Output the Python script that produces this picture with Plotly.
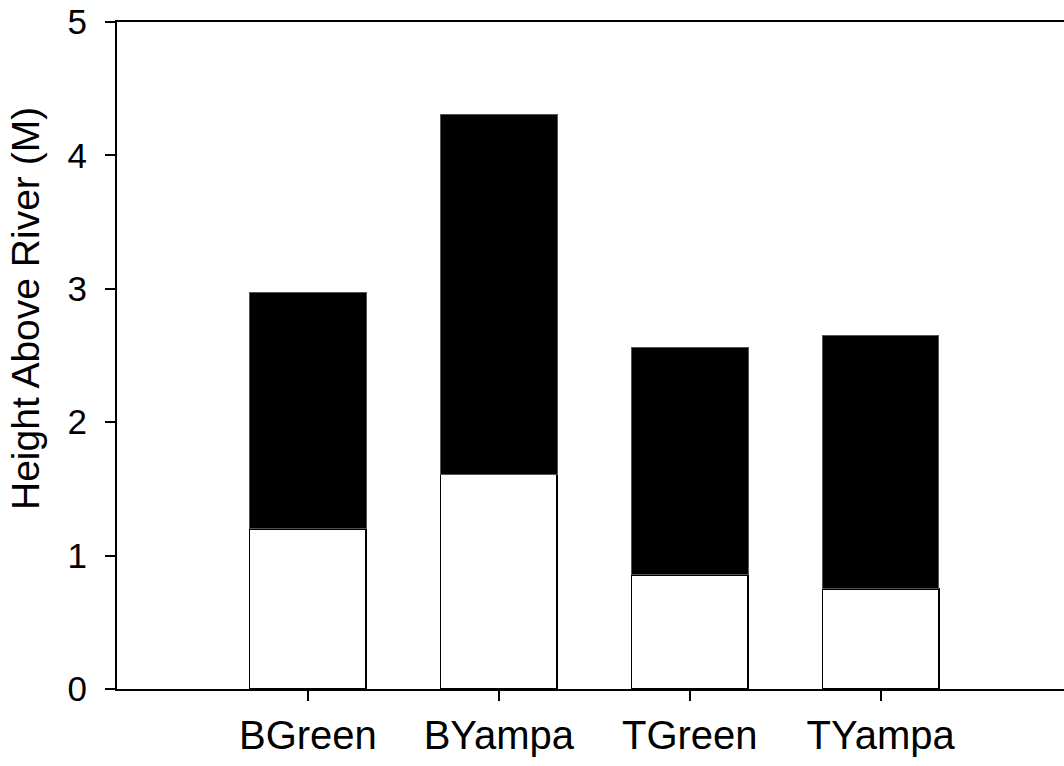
import plotly.graph_objects as go

categories = ["BGreen", "BYampa", "TGreen", "TYampa"]
lower_white = [1.2, 1.61, 0.855, 0.75]
totals = [2.97, 4.31, 2.56, 2.65]
upper_black = [t - w for t, w in zip(totals, lower_white)]
y_ticks = [0, 1, 2, 3, 4, 5]
y_title = "Height Above River (M)"

x_idx = list(range(len(categories)))

fig = go.Figure()
fig.add_trace(go.Bar(
    x=x_idx, y=lower_white, marker=dict(color="white", line=dict(color="black", width=1.5)),
    showlegend=False))
fig.add_trace(go.Bar(
    x=x_idx, y=upper_black, marker=dict(color="black", line=dict(color="#555555", width=1)),
    showlegend=False))

fig.update_layout(
    barmode="stack", bargap=0.39,
    width=1064, height=766,
    margin=dict(l=117, r=0, t=22, b=77),
    paper_bgcolor="white", plot_bgcolor="white",
    font=dict(family="Liberation Sans, Arial, sans-serif", color="black"),
)
fig.update_xaxes(
    range=[-1, 3.96], tickmode="array", tickvals=x_idx, ticktext=categories,
    showgrid=False, zeroline=False, showline=True, linecolor="black", linewidth=2,
    mirror=True, ticks="outside", ticklen=10, tickwidth=2, tickcolor="black",
    tickfont=dict(size=40), ticklabelstandoff=0,
)
fig.update_yaxes(
    range=[0, 5], tickmode="array", tickvals=y_ticks,
    showgrid=False, zeroline=False, showline=True, linecolor="black", linewidth=2,
    ticks="outside", ticklen=10, tickwidth=2, tickcolor="black",
    tickfont=dict(size=35), ticklabelstandoff=11,
)
fig.add_annotation(
    text=y_title, textangle=-90, xref="paper", yref="paper",
    x=(25 - 117) / 947, y=(689 - 309) / 667, xanchor="center", yanchor="middle",
    showarrow=False, font=dict(size=39),
)

fig.write_html("out.html")
